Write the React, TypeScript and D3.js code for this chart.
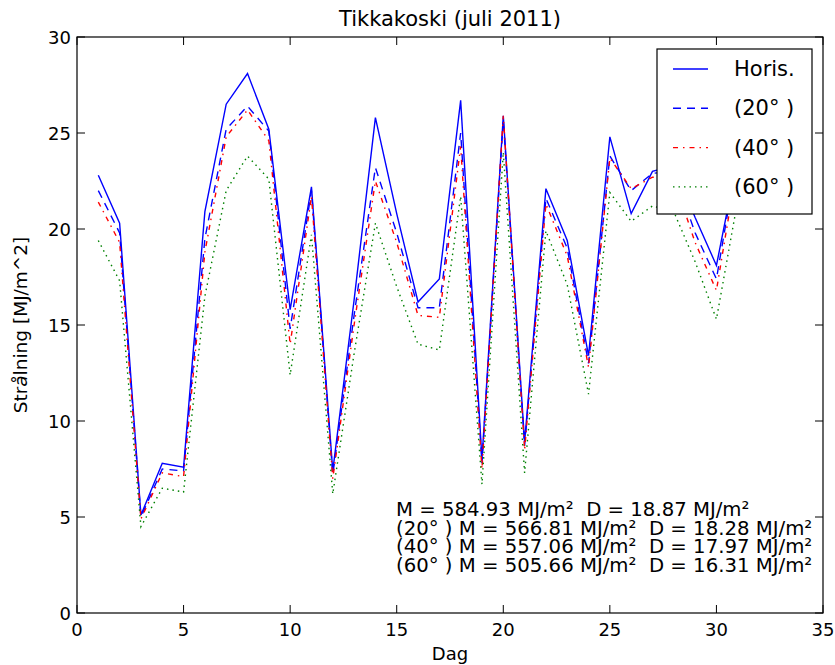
import * as d3 from "d3";

const days = d3.range(1, 32);

// Daily radiation, MJ/m^2
const horis = [
  22.8, 20.3, 5.1, 7.8, 7.6, 20.9, 26.5, 28.1, 25.2, 15.8, 22.2, 7.4, 16.3, 25.8, 20.8, 16.2,
  17.4, 26.7, 8.0, 25.9, 8.9, 22.1, 19.4, 13.4, 24.8, 20.8, 23.0, 23.3, 20.6, 18.1, 23.7,
];
const tilt20 = [
  22.0, 19.8, 5.0, 7.5, 7.4, 19.5, 25.2, 26.4, 25.1, 14.8, 22.0, 7.2, 15.5, 23.2, 19.8, 15.9,
  15.9, 25.0, 7.8, 25.7, 8.7, 21.6, 19.0, 13.0, 23.8, 22.0, 22.9, 23.0, 19.8, 17.4, 23.9,
];
const tilt40 = [
  21.4, 19.3, 4.9, 7.3, 7.1, 18.8, 24.8, 26.2, 24.6, 14.0, 21.7, 7.0, 15.0, 22.5, 19.3, 15.5,
  15.4, 24.3, 7.5, 25.9, 8.5, 21.3, 18.6, 12.8, 23.7, 22.1, 22.7, 22.6, 19.3, 16.8, 23.5,
];
const tilt60 = [
  19.4, 17.3, 4.5, 6.5, 6.3, 16.5, 22.0, 23.8, 22.6, 12.4, 19.7, 6.2, 13.5, 20.3, 17.0, 14.0,
  13.7, 21.7, 6.7, 24.0, 7.3, 19.9, 17.1, 11.4, 21.9, 20.4, 21.2, 20.9, 18.3, 15.3, 21.5,
];

const seriesNames = ["Horis.", "(20° )", "(40° )", "(60° )"];
const seriesColors = ["#0000ff", "#0000ff", "#ff0000", "#008000"];
const seriesDash = [null, "8,6", "5,5,1.5,5", "1.5,4"];

const xTicks = [0, 5, 10, 15, 20, 25, 30, 35];
const yTicks = [0, 5, 10, 15, 20, 25, 30];

const statLines = [
  "M = 584.93 MJ/m²  D = 18.87 MJ/m²",
  "(20° ) M = 566.81 MJ/m²  D = 18.28 MJ/m²",
  "(40° ) M = 557.06 MJ/m²  D = 17.97 MJ/m²",
  "(60° ) M = 505.66 MJ/m²  D = 16.31 MJ/m²",
];

const W = 835;
const H = 665;
const left = 77;
const right = 823;
const top = 37;
const bottom = 613;
const font = "DejaVu Sans, sans-serif";

export default function App() {
  const x = d3.scaleLinear().domain([0, 35]).range([left, right]);
  const y = d3.scaleLinear().domain([0, 30]).range([bottom, top]);

  const all = [horis, tilt20, tilt40, tilt60];
  const line = d3
    .line<number>()
    .x((_, i) => x(days[i]))
    .y((d) => y(d));

  const tickLen = 8;

  return (
    <div style={{ position: "absolute", left: 0, top: 0 }}>
      <svg width={W} height={H} style={{ display: "block", background: "#fff" }}>
        <text x={(left + right) / 2} y={26} textAnchor="middle" fontFamily={font} fontSize={21}>
          Tikkakoski (juli 2011)
        </text>

        {/* lines */}
        {all.map((s, k) => (
          <path
            key={k}
            d={line(s) ?? ""}
            fill="none"
            stroke={seriesColors[k]}
            strokeWidth={1.4}
            strokeDasharray={seriesDash[k] ?? undefined}
          />
        ))}

        {/* frame */}
        <rect x={left} y={top} width={right - left} height={bottom - top} fill="none" stroke="#000" strokeWidth={1.2} />

        {/* ticks */}
        {xTicks.map((t) => (
          <g key={"x" + t}>
            <line x1={x(t)} x2={x(t)} y1={bottom} y2={bottom - tickLen} stroke="#000" />
            <line x1={x(t)} x2={x(t)} y1={top} y2={top + tickLen} stroke="#000" />
            <text x={x(t)} y={bottom + 23} textAnchor="middle" fontFamily={font} fontSize={18}>
              {t}
            </text>
          </g>
        ))}
        {yTicks.map((t) => (
          <g key={"y" + t}>
            <line x1={left} x2={left + tickLen} y1={y(t)} y2={y(t)} stroke="#000" />
            <line x1={right} x2={right - tickLen} y1={y(t)} y2={y(t)} stroke="#000" />
            <text x={left - 6} y={y(t) + 7} textAnchor="end" fontFamily={font} fontSize={18}>
              {t}
            </text>
          </g>
        ))}

        <text x={(left + right) / 2} y={660} textAnchor="middle" fontFamily={font} fontSize={18}>
          Dag
        </text>
        <text
          transform={`translate(27,${(top + bottom) / 2}) rotate(-90)`}
          textAnchor="middle"
          fontFamily={font}
          fontSize={18.5}
        >
          Str<tspan fontStyle="italic">å</tspan>lning [MJ/m^2]
        </text>

        {/* stats */}
        {statLines.map((s, i) => (
          <text key={i} x={396} y={516 + i * 18.7} fontFamily={font} fontSize={19.7} style={{ whiteSpace: "pre" }}>
            {s}
          </text>
        ))}

        {/* legend */}
        <rect x={657} y={49} width={155} height={165} fill="#fff" stroke="#000" strokeWidth={1.2} />
        {seriesNames.map((n, k) => {
          const ly = 69 + k * 39.3;
          return (
            <g key={n}>
              <line
                x1={673}
                x2={708}
                y1={ly}
                y2={ly}
                stroke={seriesColors[k]}
                strokeWidth={1.4}
                strokeDasharray={seriesDash[k] ?? undefined}
              />
              <text x={734} y={ly + 7} fontFamily={font} fontSize={21}>
                {n}
              </text>
            </g>
          );
        })}
      </svg>
    </div>
  );
}
